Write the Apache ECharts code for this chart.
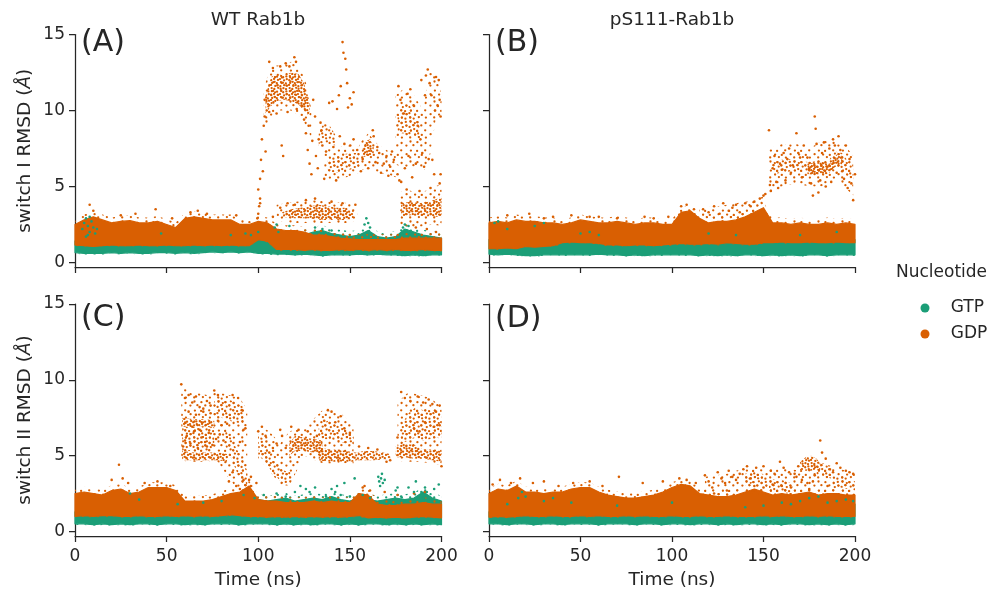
<!DOCTYPE html>
<html><head><meta charset="utf-8">
<script src="https://cdn.jsdelivr.net/npm/echarts@6/dist/echarts.min.js"></script>
<style>html,body{margin:0;padding:0;background:#fff}#c{width:998px;height:591px}</style>
</head><body><div id="c"></div><script>
// ---------------- DATA ----------------
const nucleotides = ['GTP', 'GDP'];
const colGTP = '#1b9e77', colGDP = '#d95f02';
const panelTitles = ['WT Rab1b', 'pS111-Rab1b'];
const panelLetters = ['(A)', '(B)', '(C)', '(D)'];
const yNames = ['switch I RMSD', 'switch II RMSD'];
const xTicks = [0, 50, 100, 150, 200];
const yTicks = [0, 5, 10, 15];
const timeNs = [0,5,10,15,20,25,30,35,40,45,50,55,60,65,70,75,80,85,90,95,100,105,110,115,120,125,130,135,140,145,150,155,160,165,170,175,180,185,190,195,200];

// Panel A (WT, switch I): low / high edge of the dense point cloud at each time
const aGtpLo = [0.65,0.6,0.6,0.6,0.65,0.6,0.65,0.6,0.6,0.65,0.65,0.6,0.65,0.6,0.65,0.7,0.65,0.7,0.65,0.7,0.6,0.6,0.55,0.55,0.5,0.55,0.5,0.45,0.5,0.5,0.5,0.55,0.5,0.55,0.5,0.5,0.45,0.5,0.45,0.5,0.5];
const aGtpHi = [1.4,1.6,1.6,1.4,1.3,1.3,1.3,1.35,1.35,1.3,1.3,1.3,1.3,1.3,1.35,1.35,1.35,1.4,1.4,1.4,1.5,1.6,1.9,1.7,1.7,1.8,2.0,2.1,1.9,1.8,1.7,1.8,2.1,1.7,1.6,1.7,2.2,2.0,1.8,1.7,1.6];
const aGdpLo = [1.15,1.1,1.05,1.1,1.15,1.1,1.1,1.15,1.1,1.1,1.15,1.1,1.1,1.15,1.1,1.15,1.1,1.15,1.1,1.1,1.5,1.4,0.85,0.85,0.85,0.8,0.85,0.8,0.8,0.85,0.8,0.85,0.8,0.85,0.8,0.85,0.8,0.8,0.85,0.8,0.8];
const aGdpHi = [2.5,2.8,3.0,2.8,2.6,2.7,2.75,2.6,2.6,2.7,2.5,2.3,2.9,3.0,2.9,2.8,2.8,2.8,2.5,2.5,2.7,2.6,2.2,2.1,2.1,2.0,1.8,1.8,1.7,1.6,1.55,1.5,1.5,1.5,1.5,1.5,1.6,1.6,1.6,1.6,1.6];
// Panel A GDP excursion clouds [time, low, high]
const aGdpMid      = [[113,3.0,3.3],[118,2.9,3.5],[123,2.9,3.6],[128,2.9,3.7],[133,2.8,3.8],[138,2.8,3.7],[143,2.8,3.6],[148,2.8,3.6],[152,2.9,3.4]];
const aGdpMidOuter = [[110,2.7,3.8],[120,2.6,4.0],[130,2.6,4.1],[140,2.6,4.0],[150,2.6,3.9],[154,2.8,3.6]];
const aGdpRight    = [[178,3.0,3.9],[183,3.1,4.0],[188,3.1,3.9],[193,3.0,4.0],[198,3.0,4.2],[200,3.0,4.3]];
const aGdpRightOut = [[177,2.3,4.6],[181,2.4,4.8],[186,2.3,4.6],[191,2.4,4.7],[195,2.5,4.9],[200,2.4,5.2]];
const aGdpHigh     = [[104,9.8,11.0],[107,10.3,12.2],[110,10.6,12.4],[114,10.7,12.3],[118,10.6,12.5],[122,10.4,12.4],[125,10.0,11.8],[128,9.6,10.6]];
const aGdpHighOut  = [[103,8.5,11.5],[107,9.6,12.9],[112,10.0,13.0],[118,10.0,13.2],[123,9.6,12.8],[127,8.8,11.5],[129,8.0,10.0]];
const aGdpC1 = [[133,7.6,8.6],[136,7.8,9.2],[139,7.8,9.0],[142,7.7,8.4]];
const aGdpC2 = [[138,6.0,6.8],[142,5.9,7.0],[146,6.0,7.1],[150,6.1,7.2],[155,6.3,7.2]];
const aGdpC2Out = [[136,5.5,7.4],[142,5.4,7.6],[148,5.6,7.7],[155,5.9,7.6]];
const aGdpC3 = [[157,6.9,7.5],[159,7.0,8.0],[161,7.0,8.1],[163,7.1,7.6]];
const aGdpC3Out = [[155,6.0,7.8],[160,6.2,8.5],[165,5.9,7.8],[170,5.8,7.4],[175,5.6,7.0]];
const aGdpC4 = [[176,8.4,9.6],[179,8.5,10.5],[182,8.4,10.4],[185,8.3,10.0],[188,8.2,9.5]];
const aGdpC4Out = [[175,6.5,11.0],[180,6.0,11.5],[185,6.3,11.0],[190,6.0,10.0],[193,6.5,12.5],[197,9.5,12.5],[200,9.5,11.0]];
// Panel A sparse points [time, RMSD]
const aGdpPts = [[100,3.2],[100.5,3.7],[100,4.8],[101,4.2],[101,5.5],[101.5,6.75],[102,8.1],[102.5,6.0],[103,9.0],[103.5,9.6],[103.5,10.7],[104,7.3],[99.5,2.9],[101,3.9],
[106,13.2],[108,12.8],[112,12.9],[115,13.1],[119.7,13.5],[120.6,13.2],[117,12.9],[110,9.8],[112.8,7.7],[113.6,7.0],[116,9.9],[121,10.1],[106,9.9],
[124,10.3],[125,9.4],[126,8.5],[127,7.4],[128,6.5],[129,5.8],[130,10.7],[131,9.6],[133,8.1],[134,9.2],[134.5,8.7],[135,7.7],[127.5,9.0],[129.5,8.0],[131.5,7.0],[132.5,6.2],
[138.7,10.5],[140.5,10.6],[143,10.1],[144,11.0],[145,11.6],[146,14.5],[146.5,13.8],[147.5,13.4],[148,12.7],[148.5,11.8],[149,10.2],[136,5.5],[142.5,5.4],[137,7.3],[141,7.6],[144.5,8.3],[147,7.8],[150,10.8],[151,10.4],[152,11.2],
[150.2,7.7],[152,8.1],[154,7.4],[157,6.8],[162.5,8.7],[163,8.3],[166,7.2],[168.5,6.5],[170,7.0],[172,6.3],[174,6.75],[176,5.8],[177,5.4],[160,6.2],[164,6.6],[167,5.9],[171,5.7],[173,7.3],[156,6.0],[165,7.6],
[176.5,11.6],[177.6,10.7],[179.4,9.8],[181.5,11.1],[185,10.3],[187,9.0],[188.5,8.1],[189.5,7.2],[190.5,6.3],[191.5,12.3],[192.5,12.7],[193.5,11.8],[194.5,11.0],[195,6.75],[196,5.8],[198,10.3],[199,10.7],[199.5,9.6],[199.5,5.8],[180,6.2],[182,7.0],[184,5.6],[186,6.5],[189,12.0],[191,11.0],[196.5,10.0],[197,12.2],[183,11.4],[178,5.3],[193,6.8],[198.5,12.0],
[8,3.8],[10,3.4],[25,3.1],[44,3.5],[63,3.3],[67,3.4],[72,3.2],[88,3.1],[53,2.9],[33,3.2],
[181,4.8],[188,4.7],[194,4.9],[199,5.2],[186,2.3],[192,2.2],[197,2.0],
[112,3.6],[116,3.9],[120,3.8],[126,4.1],[131,4.2],[140,4.0],[146,3.9],[108,3.0],[153,3.8]];
const aGtpPts = [[4,2.2],[5,2.6],[6,2.9],[7,2.4],[8,2.0],[9,2.7],[10,2.3],[11,1.9],[6,1.7],[8,3.0],[12,2.2],[7,1.8],[109,2.3],[110,2.5],[111,2.0],[158,2.5],[159,2.9],[160,2.6],[161,2.3],[159.5,2.0],[179,2.3],[180,2.5],[181,2.1],[182,2.4],[183,1.9],[131,2.3],[135,2.2],[140,2.1],[117,2.4],[47,1.9],[85,1.8],[93,1.9],[100,2.0],[96,1.8]];

// Panel B (pS111, switch I)
const bGtpLo = [0.55,0.5,0.55,0.5,0.45,0.45,0.5,0.5,0.5,0.5,0.5,0.5,0.55,0.5,0.5,0.45,0.5,0.45,0.5,0.5,0.5,0.5,0.5,0.45,0.5,0.45,0.5,0.45,0.5,0.5,0.45,0.5,0.45,0.5,0.45,0.5,0.5,0.45,0.5,0.5,0.5];
const bGtpHi = [1.5,1.5,1.4,1.5,1.5,1.5,1.5,1.5,1.55,1.6,1.7,1.65,1.5,1.5,1.5,1.5,1.5,1.5,1.55,1.5,1.5,1.55,1.5,1.5,1.6,1.6,1.55,1.6,1.55,1.5,1.5,1.5,1.5,1.5,1.5,1.5,1.5,1.5,1.5,1.55,1.5];
const bGdpLo = [0.9,0.9,0.95,0.9,1.05,1.0,1.05,1.1,1.3,1.35,1.3,1.3,1.25,1.15,1.15,1.1,1.15,1.15,1.1,1.15,1.2,1.25,1.2,1.2,1.25,1.2,1.3,1.25,1.2,1.2,1.3,1.3,1.35,1.3,1.3,1.35,1.3,1.3,1.35,1.3,1.3];
const bGdpHi = [2.6,2.7,2.6,2.8,2.7,2.7,2.6,2.6,2.5,2.6,2.8,2.7,2.6,2.6,2.7,2.6,2.5,2.6,2.6,2.5,2.5,3.3,3.4,2.9,2.6,2.7,2.7,2.8,3.0,3.3,3.6,2.6,2.6,2.5,2.6,2.5,2.5,2.6,2.5,2.6,2.5];
const bGdpHigh    = [[155,5.8,6.6],[160,5.9,6.8],[165,6.0,6.8],[170,6.0,6.7],[175,5.8,6.6],[180,5.8,6.7],[185,5.8,6.6],[189,6.3,7.3],[193,6.2,7.2],[196,5.7,6.7],[199,5.4,6.3]];
const bGdpHighCore = [[174,5.8,6.5],[180,5.8,6.6],[186,5.9,6.5],[190,6.4,7.1],[193,6.4,7.0]];
const bGdpHighOut = [[153,4.5,7.5],[160,5.0,7.8],[168,5.2,7.8],[175,5.0,7.5],[182,5.0,8.0],[188,5.5,8.0],[194,5.0,7.8],[199,4.4,7.0]];
const bGdpRise    = [[115,2.6,3.6],[125,2.7,3.7],[135,2.8,3.9],[145,2.9,4.1],[151,3.0,4.4]];
const bGdpPts = [[153,8.7],[153.5,5.1],[154,4.7],[155,6.2],[156,7.0],[157,5.3],[158,4.9],[159,6.5],[161,7.2],[162,5.4],[163,6.8],[164,7.5],[166,6.4],[168,8.5],[169,7.2],[170,6.9],[171,5.6],[172,7.7],[174,6.9],[176,5.2],[177,4.4],[178,9.6],[178.5,8.8],[179,7.8],[180,4.6],[181,5.4],[182,7.2],[183,7.9],[184,5.0],[186,7.5],[187,5.3],[188,8.1],[189,7.7],[190,5.9],[191,8.3],[192,7.4],[193,6.0],[194,5.5],[195,7.7],[196,4.9],[197,6.8],[198,5.2],[199,4.1],[200,5.8],[160,6.1],[175,6.2],[185,6.3],[165,5.9],
[117,3.5],[120,3.3],[123,3.7],[126,3.2],[128,3.9],[131,3.4],[133,3.6],[135,3.8],[137,3.3],[140,3.9],[143,3.7],[145,4.0],[148,4.2],[150,4.4],[151,4.5],[105,3.7],[108,3.8],[112,3.5],[98,3.0],[85,3.0],[70,2.9],[55,3.0],[45,3.1],[35,3.0],[22,3.2],[10,3.1],[30,2.9],[60,3.0],[90,2.9]];
const bGtpPts = [[3,2.6],[5,2.7],[10,2.2],[25,2.4],[30,2.6],[50,1.9],[55,2.0],[60,1.8],[120,1.9],[135,1.8],[170,1.8],[190,2.0]];

// Panel C (WT, switch II)
const cGtpLo = [0.5,0.5,0.45,0.5,0.45,0.5,0.45,0.5,0.5,0.45,0.5,0.5,0.45,0.5,0.45,0.5,0.5,0.5,0.45,0.5,0.5,0.5,0.45,0.5,0.45,0.5,0.45,0.5,0.5,0.45,0.5,0.45,0.5,0.5,0.45,0.5,0.45,0.5,0.45,0.5,0.45];
const cGtpHi = [1.3,1.3,1.3,1.3,1.3,1.35,1.3,1.3,1.3,1.3,1.3,1.4,1.5,1.5,1.5,1.5,1.6,1.7,1.8,1.9,2.1,2.0,2.1,2.2,2.0,2.1,2.2,2.1,2.3,2.1,2.0,2.2,2.1,2.0,2.1,2.2,2.1,2.2,2.6,2.2,2.0];
const cGdpLo = [1.0,1.05,1.0,1.05,1.05,1.0,1.0,1.05,1.0,1.0,1.05,1.0,1.05,1.0,1.05,1.0,1.05,1.1,1.05,1.0,1.0,0.95,1.0,0.95,1.0,0.95,1.0,0.95,1.0,0.95,1.0,1.05,0.9,0.95,0.9,0.95,0.9,0.95,1.0,0.95,0.9];
const cGdpHi = [2.5,2.6,2.5,2.4,2.7,2.8,2.5,2.6,2.9,2.9,2.9,2.7,2.0,2.0,2.0,2.1,2.3,2.5,2.6,3.0,2.1,2.0,2.0,1.9,1.9,1.9,2.0,1.9,2.0,1.9,1.9,2.5,2.4,1.8,1.7,1.7,1.8,1.8,1.9,1.8,1.8];
const cGdpU1  = [[58.5,6.9,7.5],[65,6.9,7.4],[72,6.9,7.4],[76,6.8,7.3]];
const cGdpU1b = [[58.5,5.3,6.9],[65,5.3,6.9],[72,5.3,6.9],[76,5.4,6.8]];
const cGdpU2  = [[58.5,4.7,5.3],[65,4.7,5.2],[72,4.7,5.2],[78,4.7,5.2],[83,4.6,5.1]];
const cGdpU3  = [[76,7.6,8.6],[80,7.5,8.9],[84,7.3,8.7],[88,7.2,8.5],[92,7.0,8.2]];
const cGdpU4  = [[82,5.6,6.8],[85,4.9,6.2],[88,4.0,5.5],[91,3.2,4.8],[94,2.5,4.0]];
const cGdpU5  = [[100,5.0,6.4],[104,4.6,6.0],[107,4.0,5.0],[110,3.6,4.6],[113,3.2,4.1],[116,3.1,3.9],[117.5,3.3,4.0]];
const cGdpU6  = [[117,5.0,5.8],[120,5.3,6.3],[125,5.3,6.2],[130,5.2,6.1],[135,5.1,6.0]];
const cGdpU7  = [[133,4.7,5.6],[138,4.6,5.4],[143,4.6,5.4],[148,4.6,5.3],[153,4.6,5.2]];
const cGdpU7b = [[133,6.0,7.0],[138,6.1,7.3],[143,6.0,7.0],[148,5.8,6.7],[152,5.6,6.2]];
const cGdpU8  = [[153,4.7,5.2],[158,4.7,5.3],[163,4.7,5.3],[168,4.75,5.2],[172,4.8,5.1]];
const cGdpU9  = [[175,4.9,5.6],[180,4.9,5.8],[185,4.8,5.7],[190,4.8,5.4],[195,4.7,5.4],[200,4.6,5.3]];
const cGdpU10 = [[178,5.8,7.0],[182,6.0,7.8],[186,6.2,8.2],[190,6.0,8.0],[194,6.1,8.2],[198,6.2,8.0],[200,6.0,7.6]];
const cGdpOut1 = [[58,4.6,9.5],[65,4.6,9.2],[72,4.6,9.0],[78,4.6,9.2],[84,3.5,9.0],[90,2.6,8.8],[94,2.4,8.0]];
const cGdpOut2 = [[100,4.8,7.0],[106,4.0,6.6],[112,3.1,5.8],[117,3.0,6.6],[125,5.0,6.8],[135,4.5,8.0],[145,4.5,7.8],[152,4.5,7.0]];
const cGdpOut3 = [[176,4.6,8.5],[182,4.6,9.2],[188,4.6,9.0],[194,4.5,8.8],[200,4.4,8.2]];
const cGdpPts = [[58,9.7],[60,8.8],[62,9.0],[64,8.5],[66,8.9],[68,8.2],[70,7.9],[72,8.6],[74,8.3],[76,9.3],[78,9.0],[61,6.3],[63,5.8],[65,6.6],[67,5.5],[69,6.2],[71,5.9],[73,6.5],[75,5.7],[77,6.1],[79,6.4],[81,6.0],[60,6.0],[64,6.9],[68,6.7],[72,5.6],[59,5.6],[62,7.9],[66,7.7],[70,8.1],[74,7.8],[78,7.3],[80,7.0],[83,7.1],[86,9.0],[89,8.8],[91,8.0],[92,6.7],[93,6.8],[90,5.9],[86,3.9],[84,3.3],[88,3.0],[90,2.8],[92,3.4],[95,3.4],[96,3.0],[100,6.6],[102,6.9],[104,6.3],[106,5.2],[108,5.5],[110,5.8],[112,6.7],[113,6.3],[115,5.5],[118,6.9],[122,6.7],[127,6.6],[132,6.3],[136,7.3],[138,8.0],[140,7.9],[142,7.2],[145,7.6],[147,6.8],[150,6.5],[155,5.6],[160,5.5],[165,5.4],[170,4.6],[172,4.7],[176,6.2],[178,9.2],[180,8.8],[183,8.6],[187,8.9],[190,8.5],[193,8.7],[195,8.4],[197,7.9],[199,8.3],[200,4.3],[185,6.8],[188,6.6],[191,7.2],[196,6.9],[199,7.0],[24,4.4],[20,3.4],[26,3.5],[29,3.2],[38,3.2],[45,3.3],[52,3.0],[96,3.6],[99,3.2],[97,2.6],[157,2.9],[158,3.0],[161,2.7],[169,2.6],[176,2.4],[185,2.5],[191,2.6]];
const cGtpPts = [[166,3.3],[167,3.5],[168,3.2],[167.5,3.8],[166.5,3.0],[169,3.4],[165.5,3.6],[123,3.0],[126,2.8],[143,3.0],[152.6,3.5],[176,2.9],[186,3.3],[198.5,3.1],[128,2.6],[131,2.9],[140,2.8],[147,3.2],[150,2.3],[175,2.7],[182,2.9],[189,2.6],[191,2.9],[196,2.8],[110,2.5],[115,2.3],[120,2.6],[103,2.4],[98,2.2],[92,2.4],[30,2.5],[35,2.1],[56,1.8],[70,1.9],[80,2.0],[137,2.3],[142,2.6],[157,2.4],[161,2.2],[145,2.4],[178,2.3],[185,2.6],[190,2.2],[193,2.1],[192,2.6],[191.5,2.4]];

// Panel D (pS111, switch II)
const dGtpLo = [0.5,0.5,0.45,0.5,0.5,0.45,0.5,0.5,0.45,0.5,0.5,0.5,0.45,0.5,0.5,0.5,0.45,0.5,0.5,0.45,0.5,0.5,0.45,0.5,0.5,0.45,0.5,0.45,0.5,0.5,0.45,0.5,0.45,0.5,0.5,0.45,0.5,0.45,0.5,0.45,0.5];
const dGtpHi = [1.3,1.35,1.5,1.6,1.5,1.4,1.5,1.4,1.3,1.3,1.3,1.3,1.3,1.3,1.3,1.3,1.3,1.3,1.3,1.35,1.4,1.3,1.3,1.3,1.3,1.3,1.3,1.35,1.35,1.4,1.5,1.6,1.7,1.7,1.8,1.8,1.8,1.9,1.8,1.9,1.8];
const dGdpLo = [0.95,1.0,0.95,1.0,1.05,1.0,1.0,1.05,1.0,1.0,1.05,1.0,1.05,1.0,1.0,1.05,1.0,1.05,1.0,1.0,1.05,1.0,1.0,1.05,1.0,1.0,1.05,1.0,1.0,1.0,1.05,1.0,1.05,1.0,1.0,1.05,1.0,1.05,1.0,1.0,1.0];
const dGdpHi = [2.5,2.8,2.7,3.0,2.6,2.6,2.5,2.6,2.6,2.8,2.9,2.9,2.6,2.4,2.3,2.2,2.2,2.3,2.4,2.6,2.9,3.1,3.0,2.5,2.4,2.3,2.3,2.4,2.6,2.8,2.6,2.4,2.5,2.4,2.5,2.6,2.4,2.5,2.5,2.4,2.4];
const dGdpU1 = [[140,3.0,3.8],[144,3.2,4.0],[148,3.1,3.9],[152,2.9,3.6]];
const dGdpU2 = [[153,2.6,3.4],[158,2.6,3.5],[163,2.5,3.3],[166,2.6,3.1]];
const dGdpU3 = [[170,4.0,4.6],[173,4.0,4.9],[176,4.0,5.0],[179,4.1,4.8],[181,4.0,4.5]];
const dGdpU4 = [[179,3.7,4.4],[183,3.6,4.5],[187,3.5,4.2]];
const dGdpU5 = [[188,2.8,3.5],[192,2.9,3.7],[196,2.8,3.6],[200,2.7,3.3]];
const dGdpCloud = [[118,2.3,3.6],[130,2.3,3.8],[140,2.4,4.2],[150,2.4,4.1],[160,2.4,4.2],[170,2.4,4.0],[180,2.4,4.6],[190,2.4,4.2],[200,2.3,3.8]];
const dGdpPts = [[2,3.1],[6,3.4],[12,3.2],[17,3.5],[24,3.2],[30,3.3],[38,3.0],[46,3.2],[55,3.3],[62,3.0],[71,3.6],[84,3.2],[95,3.3],[104,3.5],[108,3.4],[113,3.2],[118,3.7],[120,3.3],[122,2.9],[125,3.9],[127,3.5],[129,3.2],[131,4.0],[133,3.6],[135,3.4],[137,3.8],[139,4.1],[141,4.3],[143,3.5],[146,4.2],[150,4.3],[154,4.0],[156,3.8],[159,4.6],[161,4.2],[164,3.9],[167,3.8],[169,4.3],[171,3.4],[174,3.2],[178,3.7],[181,6.0],[182,5.2],[184,4.8],[186,4.1],[188,3.9],[190,4.5],[192,4.2],[195,4.0],[197,3.9],[199,3.8],[160,3.0],[165,2.9],[175,2.8],[185,3.0],[155,3.1],[145,3.0],[150,2.9],[130,2.7],[123,2.5],[168,3.6],[177,3.3]];
const dGtpPts = [[16,2.2],[18,2.6],[20,2.3],[30,2.0],[35,2.2],[10,1.8],[45,1.9],[70,1.7],[100,1.9],[160,1.9],[170,2.0],[175,2.2],[180,2.3],[185,1.9],[190,2.0],[195,2.1],[199,2.0],[165,1.8],[150,1.7],[140,1.6]];

// ---------------- STYLE / CHART ----------------
const FONT = 'DejaVu Sans';
const INK = '#262626';
const FRINGE_TOP = 0.35, FRINGE_BOTTOM = 0.08;   // fuzzy edge of dense clouds (style)
// dot texture used to fill point clouds (tile-local pixel offsets, style only)
const DOT_TILE = [[2.5,1.5],[6.8,3.1],[9.4,2.2],[14.9,1.3],[17.6,3.0],[21.8,1.9],
  [1.6,6.9],[5.4,5.2],[10.7,6.6],[13.3,5.4],[18.8,7.1],[22.4,5.6],
  [2.9,10.6],[6.2,9.1],[9.1,10.9],[14.6,9.4],[17.2,10.3],[21.1,11.2],
  [1.4,13.2],[7.1,14.6],[10.2,13.4],[13.8,14.9],[18.9,13.6],[22.6,14.2],
  [2.2,17.4],[5.7,18.6],[10.9,17.1],[14.1,18.3],[17.9,17.6],[21.4,18.7]];
const patternCache = {};
function dotPattern(color, kind) {
  const key = color + kind;
  if (patternCache[key]) return patternCache[key];
  const scale = kind === 'dense' ? 0.75 : 1;
  const dots = kind === 'sparse' ? DOT_TILE.filter((_, i) => (i + Math.floor(i / 6)) % 2 === 0) : DOT_TILE;
  const cv = document.createElement('canvas');
  cv.width = Math.round(24 * scale); cv.height = Math.round(20 * scale);
  const g = cv.getContext('2d');
  g.fillStyle = color;
  dots.forEach(d => { g.beginPath(); g.arc(d[0] * scale, d[1] * scale, 1.15, 0, Math.PI * 2); g.fill(); });
  patternCache[key] = { image: cv, repeat: 'repeat' };
  return patternCache[key];
}
const zip = (t, lo, hi) => t.map((x, i) => [x, lo[i], hi[i]]);

function band(gi, rows, color, kind) {
  return {
    type: 'custom', xAxisIndex: gi, yAxisIndex: gi, silent: true, animation: false,
    data: rows, encode: { x: 0, y: [1, 2] },
    renderItem: function (params, api) {
      if (params.dataIndex !== 0) return null;
      const poly = (dt, db) => rows.map(r => api.coord([r[0], r[2] + dt]))
        .concat(rows.slice().reverse().map(r => api.coord([r[0], r[1] - db])));
      if (kind === 'solid') {
        return { type: 'group', children: [
          { type: 'polygon', shape: { points: poly(FRINGE_TOP, FRINGE_BOTTOM) }, style: { fill: dotPattern(color, 'sparse') } },
          { type: 'polygon', shape: { points: poly(0, 0) }, style: { fill: color, stroke: color, lineWidth: 1.2, lineJoin: 'round' } }
        ] };
      }
      return { type: 'polygon', shape: { points: poly(0, 0) }, style: { fill: dotPattern(color, kind) } };
    }
  };
}
function pts(gi, data, name) {
  return { type: 'scatter', name: name, xAxisIndex: gi, yAxisIndex: gi, data: data,
    symbol: 'circle', symbolSize: 2.6, silent: true, animation: false,
    itemStyle: { color: name === 'GTP' ? colGTP : colGDP, opacity: 1 } };
}

const grids = [
  { left: 75, top: 34.5, width: 366.5, height: 232.5 },
  { left: 489, top: 34.5, width: 366, height: 232.5 },
  { left: 75, top: 304, width: 366.5, height: 233 },
  { left: 489, top: 304, width: 366, height: 233 }
];
const axisLineStyle = { color: INK, width: 1.25 };

const xAxes = grids.map((g, i) => ({
  type: 'value', gridIndex: i, min: xTicks[0], max: xTicks[xTicks.length - 1], interval: 50,
  axisLine: { show: true, onZero: false, lineStyle: axisLineStyle },
  axisTick: { show: true, length: 6, inside: false, lineStyle: axisLineStyle },
  axisLabel: { show: i >= 2, fontSize: 17, color: INK, fontFamily: FONT, margin: 12 },
  splitLine: { show: false },
  name: i >= 2 ? 'Time (ns)' : '', nameLocation: 'middle', nameGap: 35,
  nameTextStyle: { fontSize: 18.5, color: INK, fontFamily: FONT }
}));
const yAxes = grids.map((g, i) => ({
  type: 'value', gridIndex: i, min: -0.3, max: 15,
  axisLine: { show: true, onZero: false, lineStyle: axisLineStyle },
  axisTick: { show: true, length: 6, inside: false, lineStyle: axisLineStyle, customValues: yTicks },
  axisLabel: { show: i % 2 === 0, fontSize: 17, color: INK, fontFamily: FONT, margin: 10, customValues: yTicks },
  splitLine: { show: false },
  name: i % 2 === 0 ? yNames[i >> 1] + ' ({it|Å})' : '', nameLocation: 'middle', nameGap: 40,
  nameTextStyle: { fontSize: 18.5, color: INK, fontFamily: FONT,
    rich: { it: { fontStyle: 'italic', fontSize: 18.5, color: INK, fontFamily: FONT } } }
}));

const series = [
  // A
  band(0, zip(timeNs, aGtpLo, aGtpHi), colGTP, 'solid'),
  band(0, zip(timeNs, aGdpLo, aGdpHi), colGDP, 'solid'),
  band(0, aGdpMidOuter, colGDP, 'sparse'), band(0, aGdpMid, colGDP, 'dense'),
  band(0, aGdpRightOut, colGDP, 'sparse'), band(0, aGdpRight, colGDP, 'dense'),
  band(0, aGdpHighOut, colGDP, 'sparse'), band(0, aGdpHigh, colGDP, 'dense'),
  band(0, aGdpC1, colGDP, 'medium'), band(0, aGdpC2Out, colGDP, 'sparse'), band(0, aGdpC2, colGDP, 'medium'),
  band(0, aGdpC3Out, colGDP, 'sparse'), band(0, aGdpC3, colGDP, 'dense'),
  band(0, aGdpC4Out, colGDP, 'sparse'), band(0, aGdpC4, colGDP, 'medium'),
  pts(0, aGdpPts, 'GDP'), pts(0, aGtpPts, 'GTP'),
  // B
  band(1, zip(timeNs, bGtpLo, bGtpHi), colGTP, 'solid'),
  band(1, zip(timeNs, bGdpLo, bGdpHi), colGDP, 'solid'),
  band(1, bGdpRise, colGDP, 'sparse'),
  band(1, bGdpHighOut, colGDP, 'sparse'), band(1, bGdpHigh, colGDP, 'medium'), band(1, bGdpHighCore, colGDP, 'dense'),
  pts(1, bGdpPts, 'GDP'), pts(1, bGtpPts, 'GTP'),
  // C
  band(2, zip(timeNs, cGtpLo, cGtpHi), colGTP, 'solid'),
  band(2, zip(timeNs, cGdpLo, cGdpHi), colGDP, 'solid'),
  band(2, cGdpOut1, colGDP, 'sparse'), band(2, cGdpOut2, colGDP, 'sparse'), band(2, cGdpOut3, colGDP, 'sparse'),
  band(2, cGdpU1, colGDP, 'dense'), band(2, cGdpU1b, colGDP, 'medium'), band(2, cGdpU2, colGDP, 'dense'),
  band(2, cGdpU3, colGDP, 'medium'), band(2, cGdpU4, colGDP, 'medium'), band(2, cGdpU5, colGDP, 'medium'),
  band(2, cGdpU6, colGDP, 'dense'), band(2, cGdpU7, colGDP, 'dense'), band(2, cGdpU7b, colGDP, 'medium'),
  band(2, cGdpU8, colGDP, 'dense'), band(2, cGdpU9, colGDP, 'dense'), band(2, cGdpU10, colGDP, 'medium'),
  pts(2, cGdpPts, 'GDP'), pts(2, cGtpPts, 'GTP'),
  // D
  band(3, zip(timeNs, dGtpLo, dGtpHi), colGTP, 'solid'),
  band(3, zip(timeNs, dGdpLo, dGdpHi), colGDP, 'solid'),
  band(3, dGdpCloud, colGDP, 'sparse'),
  band(3, dGdpU1, colGDP, 'medium'), band(3, dGdpU2, colGDP, 'medium'), band(3, dGdpU3, colGDP, 'dense'),
  band(3, dGdpU4, colGDP, 'medium'), band(3, dGdpU5, colGDP, 'medium'),
  pts(3, dGdpPts, 'GDP'), pts(3, dGtpPts, 'GTP')
];

const txt = (x, y, text, size, align) => ({
  type: 'text', x: x, y: y, silent: true,
  style: { text: text, fontSize: size, fontFamily: FONT, fill: INK, align: align || 'center', verticalAlign: 'middle' }
});
const letterPos = [[81, 43], [495, 43], [81, 318], [495, 319]];

const chart = echarts.init(document.getElementById('c'), null, { renderer: 'canvas' });
chart.setOption({
  animation: false,
  backgroundColor: '#ffffff',
  grid: grids,
  xAxis: xAxes,
  yAxis: yAxes,
  series: series,
  legend: {
    data: nucleotides, orient: 'vertical', left: 915.5, top: 294.5,
    itemWidth: 9, itemHeight: 9, itemGap: 9, icon: 'circle', selectedMode: false,
    formatter: n => '   ' + n,
    textStyle: { fontSize: 17, color: INK, fontFamily: FONT, lineHeight: 17 }
  },
  graphic: [
    txt(258, 20, panelTitles[0], 18.5),
    txt(672, 20, panelTitles[1], 18.5),
    txt(letterPos[0][0], letterPos[0][1], panelLetters[0], 30, 'left'),
    txt(letterPos[1][0], letterPos[1][1], panelLetters[1], 30, 'left'),
    txt(letterPos[2][0], letterPos[2][1], panelLetters[2], 30, 'left'),
    txt(letterPos[3][0], letterPos[3][1], panelLetters[3], 30, 'left'),
    txt(896, 273, 'Nucleotide', 17, 'left')
  ]
});
</script></body></html>
